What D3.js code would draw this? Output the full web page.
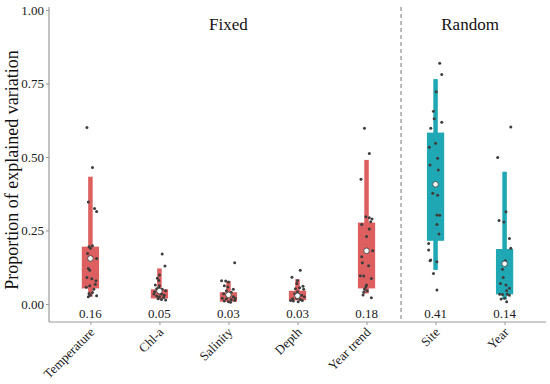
<!DOCTYPE html>
<html>
<head>
<meta charset="utf-8">
<script src="https://cdn.jsdelivr.net/npm/d3@7"></script>
<style>
  html, body { margin: 0; padding: 0; background: #fff; }
  svg { display: block; }
</style>
</head>
<body>
<svg id="chart" width="550" height="384"></svg>
<script>
// ---------------- data ----------------
const categories = ["Temperature", "Chl-a", "Salinity", "Depth", "Year trend", "Site", "Year"];
const groups     = ["Fixed", "Fixed", "Fixed", "Fixed", "Fixed", "Random", "Random"];
const groupNames = ["Fixed", "Random"];

// box summaries: lower whisker, lower hinge, upper hinge, upper whisker
const whiskerLow  = [0.025, 0.015, 0.008, 0.013, 0.036, 0.116, 0.016];
const hingeLow    = [0.053, 0.019, 0.008, 0.013, 0.053, 0.215, 0.033];
const hingeHigh   = [0.195, 0.050, 0.040, 0.045, 0.277, 0.583, 0.187];
const whiskerHigh = [0.433, 0.121, 0.078, 0.084, 0.490, 0.765, 0.450];
const centerValue = [0.155, 0.044, 0.031, 0.028, 0.181, 0.407, 0.137];
const labelValues = [0.16, 0.05, 0.03, 0.03, 0.18, 0.41, 0.14];
const yTicks = [0, 0.25, 0.5, 0.75, 1.0];

// individual observations per category
const pointsTemperature = [0.600, 0.464, 0.347, 0.325, 0.315, 0.195, 0.198, 0.190, 0.155, 0.172, 0.121, 0.115, 0.090, 0.086, 0.079, 0.067, 0.062, 0.057, 0.050, 0.039, 0.036, 0.028, 0.025, 0.030];
const pointsChla        = [0.170, 0.129, 0.099, 0.088, 0.080, 0.065, 0.062, 0.055, 0.052, 0.050, 0.045, 0.042, 0.038, 0.034, 0.034, 0.030, 0.027, 0.025, 0.022, 0.018, 0.014, 0.015];
const pointsSalinity    = [0.140, 0.079, 0.078, 0.075, 0.062, 0.058, 0.050, 0.045, 0.040, 0.035, 0.030, 0.025, 0.020, 0.018, 0.015, 0.012, 0.010, 0.008, 0.006, 0.020];
const pointsDepth       = [0.115, 0.091, 0.080, 0.070, 0.060, 0.055, 0.052, 0.050, 0.042, 0.035, 0.030, 0.025, 0.020, 0.015, 0.012, 0.010, 0.008, 0.012, 0.018];
const pointsYearTrend   = [0.598, 0.512, 0.424, 0.297, 0.270, 0.293, 0.289, 0.280, 0.255, 0.230, 0.181, 0.161, 0.140, 0.130, 0.096, 0.095, 0.087, 0.065, 0.058, 0.050, 0.045, 0.040, 0.031, 0.021];
const pointsSite        = [0.819, 0.781, 0.722, 0.656, 0.630, 0.618, 0.598, 0.547, 0.533, 0.496, 0.473, 0.456, 0.377, 0.370, 0.303, 0.302, 0.270, 0.238, 0.206, 0.184, 0.150, 0.147, 0.144, 0.104, 0.048];
const pointsYear        = [0.602, 0.498, 0.314, 0.284, 0.279, 0.223, 0.190, 0.147, 0.140, 0.118, 0.090, 0.070, 0.065, 0.054, 0.045, 0.033, 0.032, 0.033, 0.030, 0.017, 0.008, 0.020];

// horizontal jitter of each observation (fraction of category spacing)
const jitterTemperature = [-0.05, 0.03, -0.03, 0.06, 0.09, -0.02, 0.03, 0.00, 0.09, -0.04, -0.03, -0.01, -0.05, 0.02, 0.08, 0.07, -0.01, -0.06, 0.05, 0.03, -0.02, 0.09, -0.03, 0.00];
const jitterChla        = [0.04, 0.08, 0.00, -0.03, -0.01, -0.06, 0.00, -0.01, -0.04, 0.04, 0.09, -0.07, 0.01, -0.08, 0.03, 0.07, -0.04, 0.00, 0.06, -0.02, 0.09, 0.03];
const jitterSalinity    = [0.09, -0.10, -0.04, 0.00, -0.06, -0.01, 0.07, -0.03, 0.04, -0.07, 0.01, 0.07, -0.09, -0.03, 0.04, 0.09, -0.06, 0.00, 0.03, 0.10];
const jitterDepth       = [0.04, -0.08, 0.00, -0.01, 0.08, 0.03, -0.03, 0.09, 0.00, -0.04, 0.06, 0.10, -0.01, 0.04, -0.10, -0.06, 0.01, 0.07, -0.07];
const jitterYearTrend   = [-0.03, 0.04, -0.08, -0.01, -0.07, 0.04, 0.08, 0.06, 0.04, 0.00, 0.09, -0.07, -0.06, 0.03, -0.09, -0.04, 0.07, 0.00, -0.01, -0.03, 0.01, -0.04, -0.05, 0.07];
const jitterSite        = [0.06, 0.09, 0.01, -0.03, -0.02, 0.09, -0.07, 0.00, -0.09, 0.03, -0.08, 0.04, -0.04, 0.03, 0.02, 0.06, 0.02, 0.05, -0.10, -0.10, -0.07, -0.08, 0.02, -0.03, 0.02];
const jitterYear        = [0.09, -0.10, 0.02, -0.08, -0.01, 0.07, 0.09, 0.01, -0.01, -0.03, -0.02, -0.06, 0.02, 0.07, 0.03, -0.07, -0.03, 0.04, 0.07, -0.05, 0.03, 0.00];

const pointValues = [pointsTemperature, pointsChla, pointsSalinity, pointsDepth, pointsYearTrend, pointsSite, pointsYear];
const pointJitter = [jitterTemperature, jitterChla, jitterSalinity, jitterDepth, jitterYearTrend, jitterSite, jitterYear];

// ---------------- layout ----------------
const FONT = "Liberation Serif";
const plotLeft = 49, plotRight = 546, plotTop = 7, plotBottom = 322;
const colorFixed = "#DE5F60", colorRandom = "#1FA7B3";
const fillFor = g => g === "Fixed" ? colorFixed : colorRandom;

const svg = d3.select("#chart").style("font-family", FONT);

const x = d3.scalePoint().domain(categories).range([plotLeft, plotRight]).padding(0.6);
const y = d3.scaleLinear().domain([-0.0612, 1.0102]).range([plotBottom, plotTop]);
const step = x.step();
const boxW = step * 0.25;
const whiskW = step * 0.065;

// axes
const axisColor = "#9a9a9a";
const yAxis = svg.append("g")
  .attr("transform", `translate(${plotLeft},0)`)
  .call(d3.axisLeft(y).tickValues(yTicks).tickFormat(d3.format(".2f")).tickSize(3).tickPadding(2));
yAxis.select(".domain").attr("d", `M0,${plotTop}V${plotBottom}`);

const xAxis = svg.append("g")
  .attr("transform", `translate(0,${plotBottom})`)
  .call(d3.axisBottom(x).tickSize(3).tickFormat(""));
xAxis.select(".domain").attr("d", `M${plotLeft},0H${plotRight}`);

svg.selectAll(".domain").attr("stroke", axisColor).attr("stroke-width", 1.2);
svg.selectAll(".tick line").attr("stroke", axisColor).attr("stroke-width", 1);
yAxis.selectAll(".tick text")
  .style("font-family", FONT).style("font-size", "13px").attr("fill", "#1a1a1a");

// rotated x labels
svg.append("g").selectAll("text")
  .data(categories)
  .join("text")
  .attr("transform", d => `translate(${x(d) + 5},${plotBottom + 11}) rotate(-45)`)
  .attr("text-anchor", "end")
  .style("font-family", FONT).style("font-size", "13px")
  .attr("fill", "#1a1a1a")
  .text(d => d);

// y axis title
svg.append("text")
  .attr("transform", `translate(18,170) rotate(-90)`)
  .attr("text-anchor", "middle")
  .style("font-family", FONT).style("font-size", "18px")
  .attr("fill", "#111")
  .text("Proportion of explained variation");

// divider between fixed and random
const lastFixed = categories[groups.lastIndexOf("Fixed")];
const firstRandom = categories[groups.indexOf("Random")];
const divX = (x(lastFixed) + x(firstRandom)) / 2;
svg.append("line")
  .attr("x1", divX).attr("x2", divX)
  .attr("y1", plotTop).attr("y2", plotBottom)
  .attr("stroke", "#777").attr("stroke-width", 1)
  .attr("stroke-dasharray", "4,3");

// group titles
groupNames.forEach(gname => {
  const cats = categories.filter((c, i) => groups[i] === gname);
  const cx = (x(cats[0]) + x(cats[cats.length - 1])) / 2;
  svg.append("text")
    .attr("x", cx).attr("y", 30)
    .attr("text-anchor", "middle")
    .style("font-family", FONT).style("font-size", "17px")
    .attr("fill", "#111")
    .text(gname);
});

// whiskers (narrow bars) and boxes (wide bars)
const idx = d3.range(categories.length);
svg.append("g").selectAll("rect")
  .data(idx)
  .join("rect")
  .attr("x", i => x(categories[i]) - whiskW / 2)
  .attr("width", whiskW)
  .attr("y", i => y(whiskerHigh[i]))
  .attr("height", i => y(whiskerLow[i]) - y(whiskerHigh[i]))
  .attr("fill", i => fillFor(groups[i]));

svg.append("g").selectAll("rect")
  .data(idx)
  .join("rect")
  .attr("x", i => x(categories[i]) - boxW / 2)
  .attr("width", boxW)
  .attr("y", i => y(hingeHigh[i]))
  .attr("height", i => Math.max(1, y(hingeLow[i]) - y(hingeHigh[i])))
  .attr("fill", i => fillFor(groups[i]));

// observations
const pts = [];
idx.forEach(i => pointValues[i].forEach((v, j) => pts.push({ c: categories[i], v, jx: pointJitter[i][j] })));
svg.append("g").selectAll("circle")
  .data(pts)
  .join("circle")
  .attr("cx", d => x(d.c) + d.jx * step)
  .attr("cy", d => y(d.v))
  .attr("r", 1.5)
  .attr("fill", "#3d3d3d");

// center markers
svg.append("g").selectAll("circle")
  .data(idx)
  .join("circle")
  .attr("cx", i => x(categories[i]))
  .attr("cy", i => y(centerValue[i]))
  .attr("r", 2.8)
  .attr("fill", "#fff")
  .attr("stroke", "#333")
  .attr("stroke-width", 0.8);

// value labels
svg.append("g").selectAll("text")
  .data(idx)
  .join("text")
  .attr("x", i => x(categories[i]))
  .attr("y", 318)
  .attr("text-anchor", "middle")
  .style("font-family", FONT).style("font-size", "13px")
  .attr("fill", "#1a1a1a")
  .text(i => d3.format(".2f")(labelValues[i]));
</script>
</body>
</html>
